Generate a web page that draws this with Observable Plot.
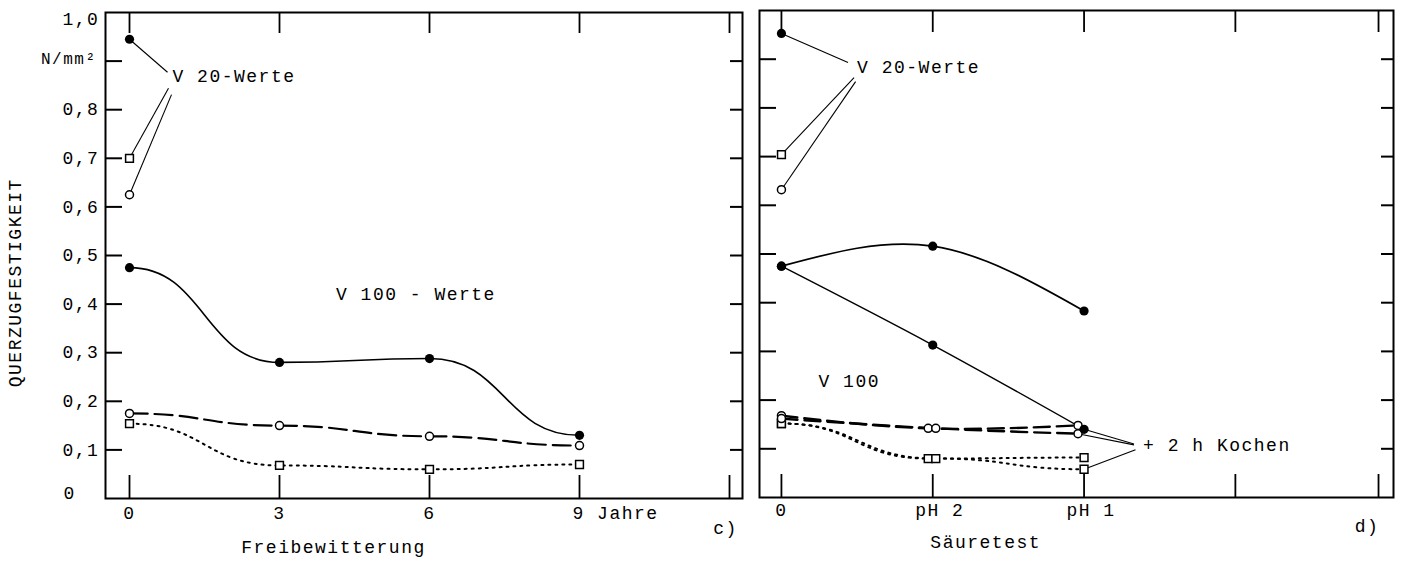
<!DOCTYPE html>
<html>
<head>
<meta charset="utf-8">
<script src="https://cdn.jsdelivr.net/npm/d3@7"></script>
<script src="https://cdn.jsdelivr.net/npm/@observablehq/plot@0.6"></script>
<style>
  body { margin: 0; background: #fff; }
  #chart { position: relative; width: 1404px; height: 561px; background: #fff; }
  #chart svg { position: absolute; top: 0; }
  #chart svg text { letter-spacing: 1.5px; }
</style>
</head>
<body>
<div id="chart"></div>
<script>
// ---------- c) Freibewitterung ----------
const yearsC = [0, 3, 6, 9];
const yearTicksC = [0, 3, 6, 9, 12];
const yearLabelsC = ["0", "3", "6"];
const lastYearLabelC = "9 Jahre";
const v100FilledC = [0.475, 0.28, 0.288, 0.13];
const v100CircleC = [0.175, 0.15, 0.128, 0.109];
const v100SquareC = [0.154, 0.068, 0.06, 0.07];
const v20FilledC = 0.945;
const v20SquareC = 0.70;
const v20CircleC = 0.625;

// ---------- d) Säuretest ----------
const acidTicksD = [0, 1, 2, 3, 3.946];
const acidLabelsD = ["pH 2", "pH 1"];
const acidPosD = [0, 1, 2];
const v100FilledD = [0.475, 0.516, 0.383];       // Säure
const v100FilledKD = [0.475, 0.313, 0.14];       // + 2 h Kochen
const circlePosD = [0, 0.97, 1.96];
const circlePosKD = [0, 1.02, 1.96];
const v100CircleD = [0.168, 0.142, 0.148];
const v100CircleKD = [0.162, 0.142, 0.131];
const squarePosD = [0, 0.97, 2];
const squarePosKD = [0, 1.02, 2];
const v100SquareD = [0.152, 0.08, 0.082];
const v100SquareKD = [0.152, 0.08, 0.058];
const v20FilledD = 0.953;
const v20SquareD = 0.704;
const v20CircleD = 0.632;

// ---------- shared y axis ----------
const yInnerTicks = [0.1, 0.2, 0.3, 0.4, 0.5, 0.6, 0.7, 0.8, 0.9];
const yMidLabels = [0.8, 0.7, 0.6, 0.5, 0.4, 0.3, 0.2, 0.1];
const fmt = d => d3.format(".1f")(d).replace(".", ",");

const font = "'Liberation Mono', 'DejaVu Sans Mono', monospace";
const fs = 18;
const rows = (xs, ys) => xs.map((x, i) => ({x, y: ys[i]}));

function frameTicks(plotW, plotH, xTicks, bottomLen, topLen) {
  return [
    Plot.frame({stroke: "black", strokeWidth: 2}),
    Plot.tickY(yInnerTicks, {y: d => d, insetRight: plotW - 17, strokeWidth: 2}),
    Plot.tickY(yInnerTicks, {y: d => d, insetLeft: plotW - 12, strokeWidth: 2}),
    Plot.tickX(xTicks, {x: d => d, insetTop: plotH - bottomLen, strokeWidth: 1.8}),
    Plot.tickX(xTicks, {x: d => d, insetBottom: plotH - topLen, strokeWidth: 1.8})
  ];
}

const filledDot = {r: 4.6, fill: "black"};
const openCircle = {r: 4, fill: "white", stroke: "black", strokeWidth: 1.5};
const openSquare = {symbol: "square", r: 4.4, fill: "white", stroke: "black", strokeWidth: 1.5};
const leader = {stroke: "black", strokeWidth: 1.1};
const below = {frameAnchor: "bottom", lineAnchor: "middle", fontSize: fs};

// Left panel
const cML = 105, cMR = 8, cMT = 12, cMB = 63, cW = 750, cH = 561;
const plotC = Plot.plot({
  width: cW, height: cH,
  marginLeft: cML, marginRight: cMR, marginTop: cMT, marginBottom: cMB,
  x: {domain: [-0.48, 12.26], axis: null},
  y: {domain: [0, 1], axis: null},
  style: {fontFamily: font, fontSize: fs + "px", color: "black", background: "white", overflow: "visible"},
  marks: [
    ...frameTicks(cW - cML - cMR, cH - cMT - cMB, yearTicksC, 23, 21),
    // y tick labels
    Plot.text([1], {y: d => d, text: fmt, frameAnchor: "left", dx: -43, textAnchor: "start", lineAnchor: "top", fontSize: fs}),
    Plot.text(yMidLabels, {y: d => d, text: fmt, frameAnchor: "left", dx: -43, textAnchor: "start", lineAnchor: "middle", fontSize: fs}),
    Plot.text([0], {y: d => d, text: d => "0", frameAnchor: "left", dx: -42, textAnchor: "start", lineAnchor: "bottom", fontSize: fs}),
    Plot.text([0.9], {y: d => d, text: d => "N/mm²", frameAnchor: "left", dx: -9, dy: -2, textAnchor: "end", lineAnchor: "middle", fontSize: 16}),
    Plot.text([0.444], {y: d => d, text: d => "QUERZUGFESTIGKEIT", frameAnchor: "left", dx: -90, rotate: -90, textAnchor: "middle", lineAnchor: "middle", fontSize: fs}),
    // x tick labels and titles
    Plot.text(yearLabelsC, {x: (d, i) => yearsC[i], text: d => d, dy: 15, ...below}),
    Plot.text([lastYearLabelC], {x: d => yearsC[3], text: d => d, dy: 15, dx: -7, textAnchor: "start", ...below}),
    Plot.text(["Freibewitterung"], {x: d => 4.08, text: d => d, dy: 49, ...below}),
    Plot.text(["c)"], {x: d => 11.92, text: d => d, dy: 30, ...below}),
    // leader lines to "V 20-Werte"
    Plot.link([
      {x1: 0, y1: v20FilledC, x2: 0.76, y2: 0.877},
      {x1: 0, y1: v20SquareC, x2: 0.78, y2: 0.844},
      {x1: 0, y1: v20CircleC, x2: 0.84, y2: 0.831}
    ], {x1: "x1", y1: "y1", x2: "x2", y2: "y2", ...leader}),
    // V 100 curves
    Plot.line(rows(yearsC, v100FilledC), {x: "x", y: "y", curve: "bump-x", stroke: "black", strokeWidth: 1.6}),
    Plot.line(rows(yearsC, v100CircleC), {x: "x", y: "y", curve: "bump-x", stroke: "black", strokeWidth: 2.2, strokeDasharray: "18,7"}),
    Plot.line(rows(yearsC, v100SquareC), {x: "x", y: "y", curve: "bump-x", stroke: "black", strokeWidth: 2, strokeDasharray: "2,5"}),
    Plot.dot(rows(yearsC, v100FilledC), {x: "x", y: "y", ...filledDot}),
    Plot.dot(rows(yearsC, v100CircleC), {x: "x", y: "y", ...openCircle}),
    Plot.dot(rows(yearsC, v100SquareC), {x: "x", y: "y", ...openSquare}),
    // V 20 points
    Plot.dot([v20FilledC], {x: d => 0, y: d => d, ...filledDot}),
    Plot.dot([v20SquareC], {x: d => 0, y: d => d, ...openSquare}),
    Plot.dot([v20CircleC], {x: d => 0, y: d => d, ...openCircle}),
    Plot.text(["V 20-Werte"], {x: d => 0.86, y: d => 0.868, text: d => d, textAnchor: "start", fontSize: fs}),
    Plot.text(["V 100 - Werte"], {x: d => 4.13, y: d => 0.42, text: d => d, textAnchor: "start", fontSize: fs})
  ]
});
plotC.style.left = "0px";

// Right panel
const dML = 9, dMR = 11, dMT = 10, dMB = 64, dW = 654, dH = 561;
const plotD = Plot.plot({
  width: dW, height: dH,
  marginLeft: dML, marginRight: dMR, marginTop: dMT, marginBottom: dMB,
  x: {domain: [-0.145, 4.045], axis: null},
  y: {domain: [0, 1], axis: null},
  style: {fontFamily: font, fontSize: fs + "px", color: "black", background: "white", overflow: "visible"},
  marks: [
    ...frameTicks(dW - dML - dMR, dH - dMT - dMB, acidTicksD, 23, 22),
    Plot.text(["0"], {x: d => acidPosD[0], text: d => d, dy: 13, ...below}),
    Plot.text(acidLabelsD, {x: (d, i) => acidPosD[i + 1], text: d => d, dy: 13, dx: 7, ...below}),
    Plot.text(["Säuretest"], {x: d => 1.35, text: d => d, dy: 45, ...below}),
    Plot.text(["d)"], {x: d => 3.87, text: d => d, dy: 29, ...below}),
    // leader lines
    Plot.link([
      {x1: 0, y1: v20FilledD, x2: 0.44, y2: 0.893},
      {x1: 0, y1: v20SquareD, x2: 0.48, y2: 0.862},
      {x1: 0, y1: v20CircleD, x2: 0.49, y2: 0.854},
      {x1: 2, y1: v100FilledKD[2], x2: 2.33, y2: 0.110},
      {x1: 1.96, y1: v100CircleKD[2], x2: 2.33, y2: 0.108},
      {x1: 2, y1: v100SquareKD[2], x2: 2.34, y2: 0.098}
    ], {x1: "x1", y1: "y1", x2: "x2", y2: "y2", ...leader}),
    // V 100 curves
    Plot.line(rows(acidPosD, v100FilledD), {x: "x", y: "y", curve: "natural", stroke: "black", strokeWidth: 1.7}),
    Plot.line(rows(acidPosD, v100FilledKD), {x: "x", y: "y", curve: "natural", stroke: "black", strokeWidth: 1.4}),
    Plot.line(rows(circlePosD, v100CircleD), {x: "x", y: "y", curve: "natural", stroke: "black", strokeWidth: 2.4, strokeDasharray: "16,7"}),
    Plot.line(rows(circlePosKD, v100CircleKD), {x: "x", y: "y", curve: "natural", stroke: "black", strokeWidth: 2.4, strokeDasharray: "16,7"}),
    Plot.line(rows(squarePosD, v100SquareD), {x: "x", y: "y", curve: "bump-x", stroke: "black", strokeWidth: 2, strokeDasharray: "2,5"}),
    Plot.line(rows(squarePosKD, v100SquareKD), {x: "x", y: "y", curve: "bump-x", stroke: "black", strokeWidth: 2, strokeDasharray: "2,5"}),
    Plot.dot(rows(squarePosD, v100SquareD), {x: "x", y: "y", ...openSquare}),
    Plot.dot(rows(squarePosKD, v100SquareKD), {x: "x", y: "y", ...openSquare}),
    Plot.dot(rows(circlePosD, v100CircleD), {x: "x", y: "y", ...openCircle}),
    Plot.dot(rows(circlePosKD, v100CircleKD), {x: "x", y: "y", ...openCircle}),
    Plot.dot(rows(acidPosD, v100FilledD), {x: "x", y: "y", ...filledDot}),
    Plot.dot(rows(acidPosD, v100FilledKD), {x: "x", y: "y", ...filledDot}),
    // V 20 points
    Plot.dot([v20FilledD], {x: d => 0, y: d => d, ...filledDot}),
    Plot.dot([v20SquareD], {x: d => 0, y: d => d, ...openSquare}),
    Plot.dot([v20CircleD], {x: d => 0, y: d => d, ...openCircle}),
    Plot.text(["V 20-Werte"], {x: d => 0.50, y: d => 0.883, text: d => d, textAnchor: "start", fontSize: fs}),
    Plot.text(["V 100"], {x: d => 0.245, y: d => 0.239, text: d => d, textAnchor: "start", fontSize: fs}),
    Plot.text(["+ 2 h Kochen"], {x: d => 2.39, y: d => 0.107, text: d => d, textAnchor: "start", fontSize: fs})
  ]
});
plotD.style.left = "750px";

const chart = document.getElementById("chart");
chart.append(plotC, plotD);
</script>
</body>
</html>
